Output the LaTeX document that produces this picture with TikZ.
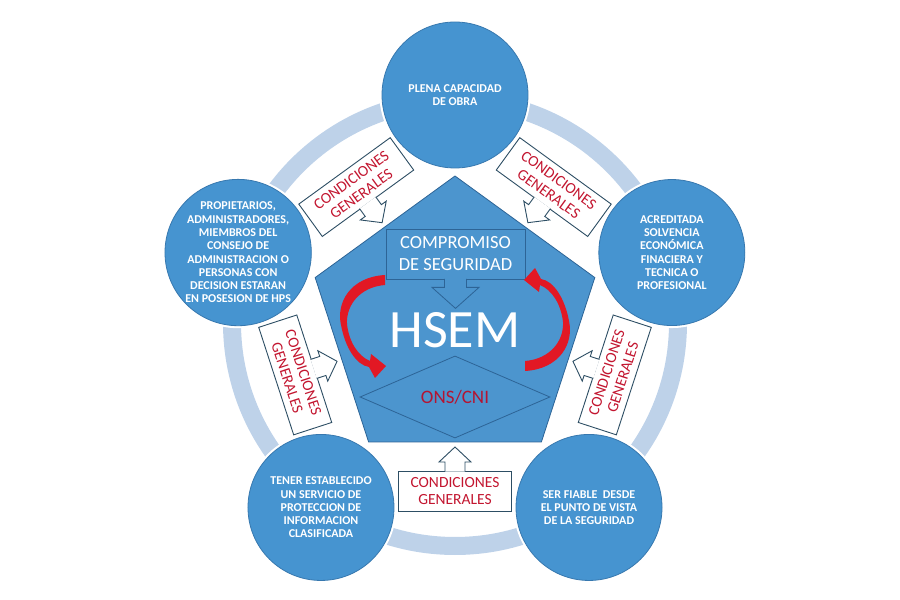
\documentclass[tikz,border=0pt]{standalone}
\usepackage{fontspec}
\setmainfont{Carlito}
\usepackage{xcolor}
\definecolor{circblue}{RGB}{70,148,208}
\definecolor{circedge}{RGB}{55,120,175}
\definecolor{pentblue}{RGB}{76,149,206}
\definecolor{pentedge}{RGB}{45,100,150}
\definecolor{ringblue}{RGB}{190,210,233}
\definecolor{cgedge}{RGB}{45,78,100}
\definecolor{cgred}{RGB}{195,22,48}
\definecolor{onsred}{RGB}{180,20,50}
\definecolor{arrowred}{RGB}{226,24,36}
\usepackage{tikz}
\usetikzlibrary{calc,shapes.geometric}

\begin{document}
\begin{tikzpicture}[
  x=1pt,y=1pt,
  ring/.style={draw=ringblue,line width=18pt},
  reqbox/.style={circle,draw=circedge,line width=0.8pt,fill=circblue,minimum size=146pt,inner sep=0pt,align=center,text=white,font=\fontsize{12}{13.3}\selectfont\bfseries,preaction={draw=white,line width=5pt}},
  pent/.style={draw=pentedge,line width=0.8pt,fill=pentblue,line join=miter},
  compbox/.style={rectangle,draw=pentedge,line width=0.8pt,fill=pentblue,minimum width=139pt,minimum height=50pt,inner sep=0pt,align=center,text=white,font=\fontsize{18.5}{22}\selectfont},
  comptip/.style={draw=pentedge,line width=0.8pt,fill=pentblue,line join=miter},
  hsem/.style={text=white,inner sep=0pt,font=\fontsize{54}{60}\selectfont},
  onsbox/.style={diamond,draw=pentedge,line width=0.8pt,fill=pentblue,minimum width=190pt,minimum height=82pt,inner sep=0pt,text=onsred,font=\fontsize{19}{22}\selectfont},
  cgbox/.style={rectangle,draw=cgedge,line width=0.9pt,fill=white,minimum width=113pt,minimum height=40pt,inner sep=0pt,align=center,text=cgred,font=\fontsize{15.5}{17}\selectfont},
  cgtip/.style={draw=cgedge,line width=0.9pt,fill=white,line join=miter}
]
  \useasboundingbox (0,0) rectangle (900,600);
  \coordinate (C) at (455,277);

  % ring behind the requirements
  \draw[ring] (C) circle[radius=223pt];

  % requirements
  \node[reqbox] (obra) at ($(C)+(90:228)$) {PLENA CAPACIDAD\\DE OBRA};
  \node[reqbox] (solvencia) at ($(C)+(18:228)$) {ACREDITADA\\SOLVENCIA\\ECONÓMICA\\FINACIERA Y\\TECNICA O\\PROFESIONAL};
  \node[reqbox] (propiet) at ($(C)+(162:228)$) {PROPIETARIOS,\\ADMINISTRADORES,\\MIEMBROS DEL\\CONSEJO DE\\ADMINISTRACION O\\PERSONAS CON\\DECISION ESTARAN\\EN POSESION DE HPS};
  \node[reqbox] (proteccion) at ($(C)+(234:228)$) {TENER ESTABLECIDO\\UN SERVICIO DE\\PROTECCION DE\\INFORMACION\\CLASIFICADA};
  \node[reqbox] (fiable) at ($(C)+(306:228)$) {SER FIABLE\ \ DESDE\\EL PUNTO DE VISTA\\DE LA SEGURIDAD};

  % pentagon
  \filldraw[pent] ($(C)+(90:147)$) -- ($(C)+(162:147)$) -- ($(C)+(234:147)$) -- ($(C)+(306:147)$) -- ($(C)+(18:147)$) -- cycle;

  \node[compbox] (comp) at (455.5,346) {COMPROMISO\\DE SEGURIDAD};
  \filldraw[comptip] ([shift={(-11,0.5)}]comp.south) -- ++(0,-8.5) -- ++(-12.5,0) -- ++(23.5,-21) -- ++(23.5,21) -- ++(-12.5,0) -- ++(0,8.5);

  \node[hsem] (hsem) at (455,269.5) {HSEM};
  \node[onsbox] (ons) at (455,203) {ONS/CNI};

  % red loop arrows
  \foreach \r in {0,180}{
    \fill[arrowred,shift={(C)},rotate=\r] (-70,48) .. controls (-105,46) and (-119,20) .. (-114,-2) .. controls (-110,-24) and (-99,-42) .. (-86,-44) -- (-80,-55) -- (-69,-43) -- (-84,-31) -- (-85,-38) .. controls (-97,-33) and (-106,-19) .. (-108,-1) .. controls (-109,18) and (-95,36) .. (-70,38) -- cycle;
  }

  % condiciones generales
  \foreach \ang/\flip [count=\i] in {270/0,342/0,54/180,126/180,198/0}{
    \begin{scope}[shift={($(C)+(\ang:168)$)},rotate=\ang+90]
      \node[cgbox,transform shape,rotate=\flip] (cg\i) at (0,0) {CONDICIONES\\GENERALES};
      \filldraw[cgtip] (-10,19.4) -- (-10,29) -- (-16,29) -- (0,44) -- (16,29) -- (10,29) -- (10,19.4);
    \end{scope}
  }
\end{tikzpicture}
\end{document}
